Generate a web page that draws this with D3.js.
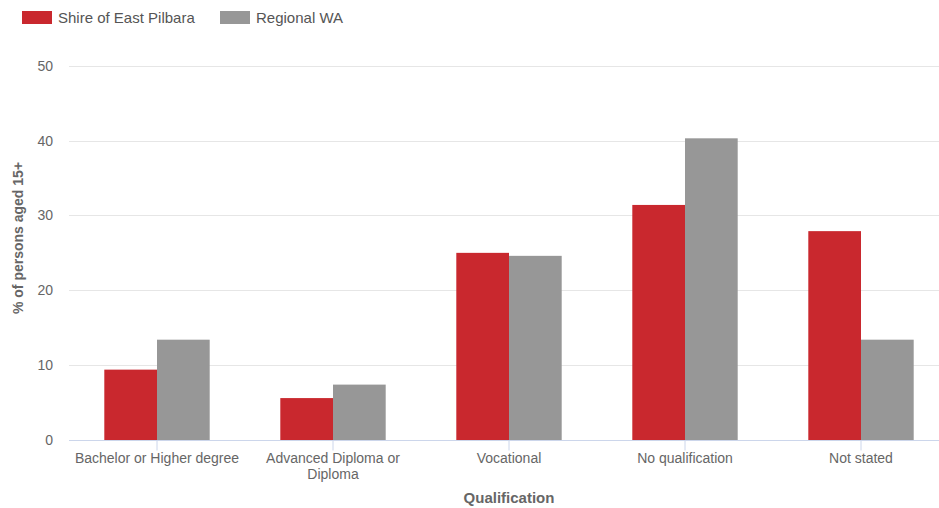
<!DOCTYPE html>
<html>
<head>
<meta charset="utf-8">
<script src="https://cdn.jsdelivr.net/npm/d3@7"></script>
<style>
  html, body { margin: 0; padding: 0; background: #fff; }
  svg { display: block; font-family: "Liberation Sans", Arial, sans-serif; }
</style>
</head>
<body>
<svg id="chart" width="939" height="508"></svg>
<script>
// Highest qualification achieved, % of persons aged 15+
const categories = ["Bachelor or Higher degree", "Advanced Diploma or Diploma", "Vocational", "No qualification", "Not stated"];
const seriesNames = ["Shire of East Pilbara", "Regional WA"];
const eastPilbara = [9.4, 5.6, 25.0, 31.4, 27.9];
const regionalWA = [13.4, 7.4, 24.6, 40.3, 13.4];
const yTicks = [0, 10, 20, 30, 40, 50];
const colors = ["#c9282e", "#979797"];

const svg = d3.select("#chart");
const plot = { left: 69, right: 949, top: 65.7, bottom: 440 };

const x = d3.scaleBand().domain(categories).range([plot.left, plot.right]).paddingInner(0).paddingOuter(0);
const x1 = d3.scaleBand().domain(seriesNames).range([0, x.bandwidth()]).paddingInner(0).paddingOuter(0.67);
const y = d3.scaleLinear().domain([0, 50]).range([plot.bottom, plot.top]);

// gridlines
svg.append("g").selectAll("line").data(yTicks.filter(d => d > 0)).join("line")
  .attr("x1", plot.left).attr("x2", plot.right)
  .attr("y1", d => Math.round(y(d)) + 0.5).attr("y2", d => Math.round(y(d)) + 0.5)
  .attr("stroke", "#e6e6e6").attr("stroke-width", 1);

// y axis labels
const yAxis = d3.axisLeft(y).tickValues(yTicks).tickSize(0).tickPadding(0);
const gy = svg.append("g").attr("transform", `translate(${53},0)`).call(yAxis);
gy.select(".domain").remove();
gy.selectAll("text").attr("fill", "#666").attr("font-size", 14).attr("font-family", "Liberation Sans, Arial, sans-serif");

// bars
const data = categories.map((c, i) => ({ cat: c, vals: [eastPilbara[i], regionalWA[i]] }));
const groups = svg.append("g").selectAll("g").data(data).join("g")
  .attr("transform", d => `translate(${x(d.cat)},0)`);
groups.selectAll("rect").data(d => d.vals.map((v, k) => ({ v, k }))).join("rect")
  .attr("x", d => x1(seriesNames[d.k]))
  .attr("width", x1.bandwidth())
  .attr("y", d => y(d.v))
  .attr("height", d => y(0) - y(d.v))
  .attr("fill", d => colors[d.k]);

// x axis
const xAxis = d3.axisBottom(x).tickSize(10).tickPadding(0);
const gx = svg.append("g").attr("transform", `translate(0,${plot.bottom + 0.5})`).call(xAxis);
gx.select(".domain").attr("stroke", "#ccd6eb").attr("d", `M${plot.left},0H${plot.right}`);
gx.selectAll(".tick line").attr("stroke", "#ccd6eb");
gx.selectAll(".tick text").remove();

// wrapped category labels
const wrapped = {
  "Advanced Diploma or Diploma": ["Advanced Diploma or", "Diploma"]
};
const labels = svg.append("g").selectAll("text").data(categories).join("text")
  .attr("x", d => x(d) + x.bandwidth() / 2)
  .attr("y", 463)
  .attr("text-anchor", "middle")
  .attr("font-size", 14)
  .attr("fill", "#666");
labels.each(function(d) {
  const lines = wrapped[d] || [d];
  d3.select(this).selectAll("tspan").data(lines).join("tspan")
    .attr("x", x(d) + x.bandwidth() / 2)
    .attr("dy", (l, i) => i === 0 ? 0 : 16)
    .text(l => l);
});

// axis titles
svg.append("text")
  .attr("x", (plot.left + plot.right) / 2).attr("y", 503)
  .attr("text-anchor", "middle").attr("font-size", 15).attr("font-weight", "bold")
  .attr("fill", "#666").text("Qualification");

svg.append("text")
  .attr("transform", `translate(23,238) rotate(-90)`)
  .attr("text-anchor", "middle").attr("font-size", 14).attr("font-weight", "bold")
  .attr("fill", "#666").text("% of persons aged 15+");

// legend
const legendItems = [
  { name: seriesNames[0], color: colors[0], x: 22 },
  { name: seriesNames[1], color: colors[1], x: 220 }
];
const lg = svg.append("g").selectAll("g").data(legendItems).join("g")
  .attr("transform", d => `translate(${d.x},0)`);
lg.append("rect").attr("x", 0).attr("y", 11).attr("width", 30).attr("height", 13).attr("fill", d => d.color);
lg.append("text").attr("x", 36).attr("y", 23).attr("font-size", 15).attr("fill", "#555").text(d => d.name);
</script>
</body>
</html>
